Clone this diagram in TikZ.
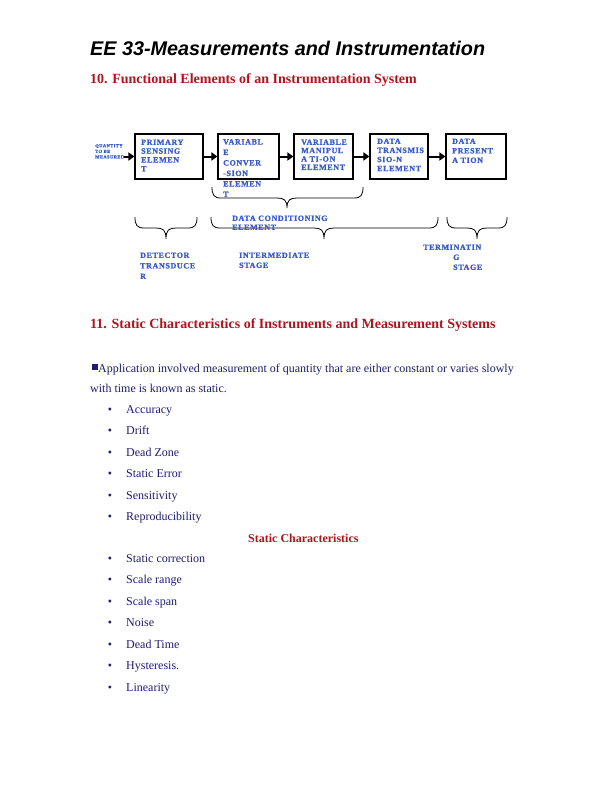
\documentclass[tikz,border=0pt]{standalone}
\usepackage{fontspec}
\setmainfont{Liberation Serif}
\newfontfamily\titlefont{Liberation Sans}
\newfontfamily\diagfont[LetterSpace=8,BoldFeatures={FakeBold=1.2}]{Liberation Serif}
\usetikzlibrary{arrows.meta}
\definecolor{navy}{HTML}{1E1E6E}
\definecolor{hred}{HTML}{B0141E}
\definecolor{dblue}{HTML}{3A5CC8}
\tikzset{
  box/.style={draw=black, line width=1.1pt, inner sep=0pt},
  btxt/.style={anchor=north west, inner sep=0pt, align=left, text=dblue,
     font=\diagfont\bfseries\fontsize{8}{#1}\selectfont},
  btxt/.default=9,
  qtxt/.style={anchor=north west, inner sep=0pt, align=left, text=dblue,
     font=\diagfont\bfseries\fontsize{4.6}{5.6}\selectfont},
  flow/.style={line width=2pt, -{Triangle[length=6pt,width=8pt]}},
  brc/.style={line width=0.8pt, black},
  body/.style={anchor=base west, inner sep=0pt, text=navy, font=\fontsize{12}{14}\selectfont},
  bul/.style={anchor=base, inner sep=0pt, text=navy, font=\fontsize{12}{14}\selectfont},
  head/.style={anchor=base west, inner sep=0pt, text=hred, font=\bfseries\fontsize{14}{16}\selectfont},
}
\newcommand{\mybrc}[5]{%
  \draw[brc] (#1,#4) .. controls (#1,#4+8) and (#1+2,#4+11) .. (#1+9,#4+11)
    -- (#3-10,#4+11) .. controls (#3-3,#4+11) and (#3,#4+13) .. (#3,#4+#5)
    .. controls (#3,#4+13) and (#3+3,#4+11) .. (#3+10,#4+11)
    -- (#2-9,#4+11) .. controls (#2-2,#4+11) and (#2,#4+8) .. (#2,#4);}
\begin{document}
\begin{tikzpicture}[x=1pt,y=-1pt]
\useasboundingbox[fill=white] (0,0) rectangle (612,792);
% title
\node[anchor=base west, inner sep=0pt, font=\titlefont\bfseries\itshape\fontsize{19.8}{22}\selectfont] (title) at (90,56) {EE 33-Measurements and Instrumentation};
\node[head] (h10) at (90,84) {10. Functional Elements of an Instrumentation System};
% boxes
\node[box, minimum width=68pt, minimum height=45pt] (b1) at (169,156.5) {};
\node[box, minimum width=61pt, minimum height=45pt] (b2) at (248.5,156.5) {};
\node[box, minimum width=59pt, minimum height=45pt] (b3) at (323.5,156.5) {};
\node[box, minimum width=58pt, minimum height=45pt] (b4) at (399,156.5) {};
\node[box, minimum width=60pt, minimum height=45pt] (b5) at (476,156.5) {};
% box texts
\node[btxt=8.8] (t1) at (141,139.4) {PRIMARY\\SENSING\\ELEMEN\\T};
\node[btxt=10.5] (t2) at (223,139) {VARIABL\\E\\CONVER\\-SION\\ELEMEN\\T};
\node[btxt=8.4] (t3) at (301,139.3) {VARIABLE\\MANIPUL\\A TI-ON\\ELEMENT};
\node[btxt=9.1] (t4) at (377,138.4) {DATA\\TRANSMIS\\SIO-N\\ELEMENT};
\node[btxt=9.5] (t5) at (452,138.4) {DATA\\PRESENT\\A TION};
\node[qtxt] (q) at (95,144) {QUANTITY\\TO BE\\MEASURED};
% arrows
\draw[flow] (q.east |- b1.west) -- (b1.west);
\draw[flow] (b1.east) -- (b2.west);
\draw[flow] (b2.east) -- (b3.west);
\draw[flow] (b3.east) -- (b4.west);
\draw[flow] (b4.east) -- (b5.west);
% braces
\mybrc{212}{363}{287}{187}{21}
\mybrc{135}{197}{166}{217}{22}
\mybrc{211}{438}{324}{217}{22}
\mybrc{447}{507}{477}{217}{22}
% brace labels
\node[btxt=9] (dce) at (232,215.4) {DATA CONDITIONING\\ELEMENT};
\node[btxt=10.5] (det) at (140,252.4) {DETECTOR\\TRANSDUCE\\R};
\node[btxt=10] (ist) at (239,252.4) {INTERMEDIATE\\STAGE};
\node[btxt] (ter) at (423,244.4) {TERMINATIN};
\node[btxt=10] (ter2) at (453,254.4) {G\\STAGE};
% section 11
\node[head] (h11) at (90,328) {11. Static Characteristics of Instruments and Measurement Systems};
\fill[navy] (91.5,364) rectangle (97.5,370);
\node[body] (p1) at (98,372) {Application involved measurement of quantity that are either constant or varies slowly};
\node[body] (p2) at (90,392) {with time is known as static.};
% bullet lists
\foreach \t/\y [count=\i] in {Accuracy/413, Drift/434.5, Dead Zone/456, Static Error/477.5, Sensitivity/499, Reproducibility/520.5,
  Static correction/562, Scale range/583.5, Scale span/605, Noise/626.5, Dead Time/648, Hysteresis./669.5, Linearity/691}{
  \node[bul] (bu\i) at (110,\y) {\textbullet};
  \node[body] (li\i) at (126,\y) {\t};
}
\node[anchor=base west, inner sep=0pt, text=hred, font=\bfseries\fontsize{12}{14}\selectfont] (sc) at (248,542) {Static Characteristics};
\end{tikzpicture}
\end{document}
